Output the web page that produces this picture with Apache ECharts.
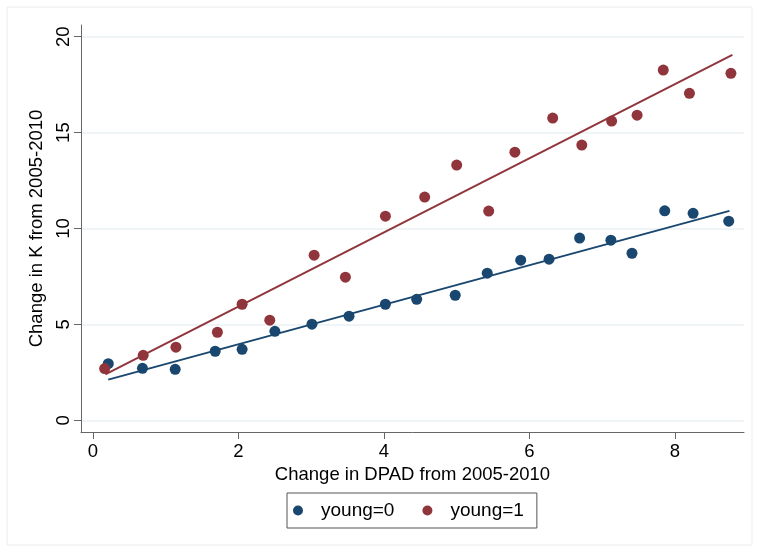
<!DOCTYPE html>
<html>
<head>
	<meta charset="utf-8" />
	<title>Change in K vs DPAD</title>
	<script type="text/javascript" src="https://cdn.jsdelivr.net/npm/echarts@6/dist/echarts.min.js"></script>
	<style>
		html, body {margin:0;padding:0;background:#fff;}
		#chart {width:759px;height:552px;}
	</style>
</head>
<body>
	<div id="chart"></div>
	<script>
		// young=0
		var x0 = [0.21, 0.68, 1.13, 1.68, 2.05, 2.50, 3.01, 3.52, 4.02, 4.45, 4.98, 5.42, 5.88, 6.27, 6.69, 7.12, 7.41, 7.86, 8.25, 8.74];
		var y0 = [2.95, 2.71, 2.66, 3.60, 3.70, 4.64, 5.01, 5.43, 6.05, 6.31, 6.52, 7.67, 8.35, 8.40, 9.50, 9.39, 8.71, 10.92, 10.79, 10.38];
		// young=1
		var x1 = [0.16, 0.69, 1.14, 1.71, 2.05, 2.43, 3.04, 3.47, 4.02, 4.56, 5.00, 5.44, 5.80, 6.32, 6.72, 7.13, 7.48, 7.84, 8.20, 8.77];
		var y1 = [2.70, 3.39, 3.81, 4.59, 6.05, 5.22, 8.61, 7.46, 10.64, 11.64, 13.31, 10.91, 13.98, 15.76, 14.35, 15.60, 15.91, 18.26, 17.05, 18.09];
		// fitted lines (end points)
		var fitX0 = [0.21, 8.75];
		var fitY0 = [2.12, 10.92];
		var fitX1 = [0.17, 8.79];
		var fitY1 = [2.39, 19.05];

		var xTicks = [0, 2, 4, 6, 8];
		var yTicks = [0, 5, 10, 15, 20];

		var names = ['young=0', 'young=1'];
		var navy = '#1a476f';
		var maroon = '#90353b';
		var font = '"Liberation Sans", Arial, Helvetica, sans-serif';

		function pairs(xs, ys) {
			return xs.map((v, i) => [v, ys[i]]);
		}

		var chart = echarts.init(document.getElementById('chart'));

		var option = {
			animation: false,
			backgroundColor: '#fff',
			textStyle: {fontFamily: font, color: '#000'},
			graphic: [{
				type: 'rect',
				shape: {x: 7, y: 7, width: 745, height: 538},
				style: {fill: 'none', stroke: '#ececec', lineWidth: 1},
				silent: true
			}],
			grid: {left: 81, right: 15, top: 25, bottom: 120},
			legend: {
				data: names,
				left: 287,
				top: 493,
				orient: 'horizontal',
				padding: [8, 13, 8, 6],
				itemGap: 28,
				itemWidth: 10,
				itemHeight: 10,
				borderColor: '#555',
				borderWidth: 1,
				textStyle: {fontSize: 19, color: '#000', fontFamily: font, padding: [0, 0, 0, 13]}
			},
			xAxis: {
				type: 'value',
				min: -0.165,
				max: 8.95,
				name: 'Change in DPAD from 2005-2010',
				nameLocation: 'middle',
				nameGap: 29,
				nameTextStyle: {fontSize: 18.5, color: '#000'},
				axisLine: {show: true, onZero: false, lineStyle: {color: '#666', width: 1}},
				axisTick: {show: true, length: 7, customValues: xTicks, lineStyle: {color: '#666'}},
				axisLabel: {customValues: xTicks, fontSize: 18.5, color: '#000', margin: 10},
				splitLine: {show: false}
			},
			yAxis: {
				type: 'value',
				min: -0.61,
				max: 20.61,
				name: 'Change in K from 2005-2010',
				nameLocation: 'middle',
				nameGap: 28,
				nameRotate: 90,
				nameTextStyle: {fontSize: 18.5, color: '#000'},
				axisLine: {show: true, onZero: false, lineStyle: {color: '#666', width: 1}},
				axisTick: {show: true, length: 7, customValues: yTicks, lineStyle: {color: '#666'}},
				axisLabel: {customValues: yTicks, rotate: 90, fontSize: 18.5, color: '#000', margin: 8},
				splitLine: {show: true, lineStyle: {color: '#eaf2f3', width: 1.5}}
			},
			series: [
				{
					name: names[0],
					type: 'scatter',
					symbol: 'circle',
					symbolSize: 11,
					itemStyle: {color: navy, opacity: 1},
					data: pairs(x0, y0)
				},
				{
					name: names[1],
					type: 'scatter',
					symbol: 'circle',
					symbolSize: 11,
					itemStyle: {color: maroon, opacity: 1},
					data: pairs(x1, y1)
				},
				{
					name: 'fit0',
					type: 'line',
					showSymbol: false,
					symbol: 'none',
					lineStyle: {color: navy, width: 2},
					data: pairs(fitX0, fitY0)
				},
				{
					name: 'fit1',
					type: 'line',
					showSymbol: false,
					symbol: 'none',
					lineStyle: {color: maroon, width: 2},
					data: pairs(fitX1, fitY1)
				}
			]
		};

		chart.setOption(option);
	</script>
</body>
</html>
